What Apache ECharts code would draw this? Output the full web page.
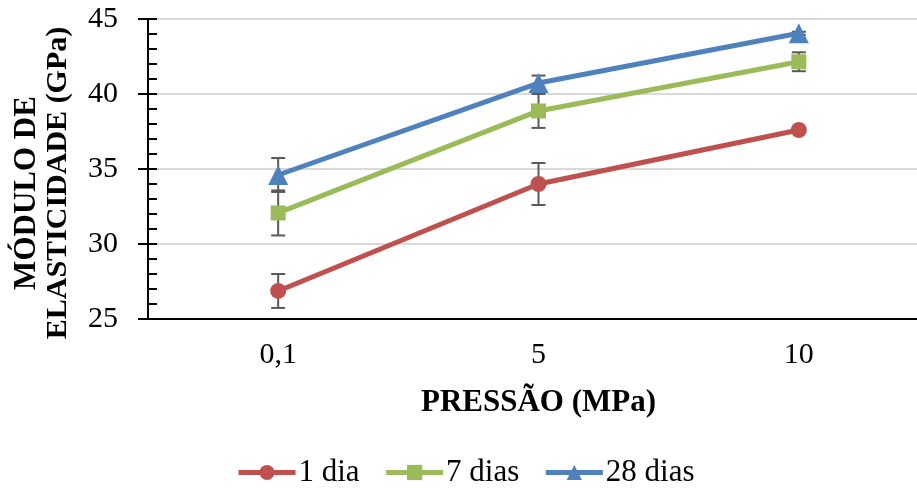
<!DOCTYPE html>
<html>
<head>
<meta charset="utf-8">
<script src="https://cdn.jsdelivr.net/npm/echarts@6/dist/echarts.min.js"></script>
<style>
html,body{margin:0;padding:0;background:#fff;}
#chart{width:917px;height:490px;}
</style>
</head>
<body>
<div id="chart"></div>
<script>
const categories = ['0,1', '5', '10'];
const seriesNames = ['1 dia', '7 dias', '28 dias'];
const dia1 = [26.87, 34.0, 37.6];
const dia7 = [32.07, 38.87, 42.15];
const dia28 = [34.6, 40.73, 44.05];
const err1 = [1.13, 1.4, 0.0];
const err7 = [1.5, 1.13, 0.63];
const err28 = [1.13, 0.5, 0.1];
const yTicks = [25, 30, 35, 40, 45];

const colors = ['#C0504D', '#9BBB59', '#4F81BD'];
const FONT = '"Liberation Serif", "Times New Roman", serif';

const chart = echarts.init(document.getElementById('chart'), null, {renderer: 'canvas'});

function errSeries(vals, errs, name) {
  return {
    type: 'custom',
    name: name + ' err',
    xAxisIndex: 0, yAxisIndex: 0,
    z: 1,
    silent: true,
    data: vals.map((v, i) => [i, v - errs[i], v + errs[i]]),
    renderItem: function (params, api) {
      const lo = api.coord([api.value(0), api.value(1)]);
      const hi = api.coord([api.value(0), api.value(2)]);
      const hw = 7;
      const st = {stroke: '#595959', lineWidth: 2};
      return {
        type: 'group',
        children: [
          {type: 'line', shape: {x1: lo[0], y1: lo[1], x2: hi[0], y2: hi[1]}, style: st},
          {type: 'line', shape: {x1: lo[0] - hw, y1: lo[1], x2: lo[0] + hw, y2: lo[1]}, style: st},
          {type: 'line', shape: {x1: hi[0] - hw, y1: hi[1], x2: hi[0] + hw, y2: hi[1]}, style: st}
        ]
      };
    }
  };
}

function lineSeries(name, vals, color, symbol, size) {
  return {
    type: 'line',
    name: name,
    data: vals,
    xAxisIndex: 0, yAxisIndex: 0,
    z: 3,
    symbol: symbol,
    symbolSize: size,
    lineStyle: {color: color, width: 5},
    itemStyle: {color: color},
    emphasis: {disabled: true}
  };
}

const option = {
  animation: false,
  color: colors,
  grid: {left: 148, top: 19, width: 781, height: 300, outerBoundsMode: 'none', containLabel: false,
    show: true, borderColor: '#000', borderWidth: 2, backgroundColor: 'transparent'},
  legend: {
    top: 452,
    left: 231,
    data: seriesNames,
    itemWidth: 57,
    itemHeight: 19,
    itemGap: 24,
    lineStyle: {width: 5},
    textStyle: {fontFamily: FONT, fontSize: 31, color: '#000', padding: [0, 0, 0, -2]}
  },
  xAxis: [
    {
      type: 'category', data: categories, position: 'bottom',
      boundaryGap: true,
      axisLine: {lineStyle: {color: '#000', width: 2}},
      axisTick: {alignWithLabel: true, inside: false, length: 6, lineStyle: {color: '#000', width: 2}},
      axisLabel: {fontFamily: FONT, fontSize: 30, color: '#000', margin: 21},
      splitLine: {show: false},
      name: 'PRESSÃO (MPa)', nameLocation: 'middle', nameGap: 68,
      nameTextStyle: {fontFamily: FONT, fontSize: 31, fontWeight: 'bold', color: '#000'}
    },
    {
      type: 'category', data: categories, position: 'bottom', gridIndex: 0,
      boundaryGap: true,
      axisLine: {show: false},
      axisTick: {alignWithLabel: true, inside: true, length: 6, lineStyle: {color: '#000', width: 2}},
      axisLabel: {show: false},
      splitLine: {show: false}
    }
  ],
  yAxis: [
    {
      type: 'value', min: 25, max: 45, interval: 5,
      axisLine: {show: true, lineStyle: {color: '#000', width: 2}},
      axisTick: {show: true, inside: false, length: 10, lineStyle: {color: '#000', width: 2}},
      axisLabel: {fontFamily: FONT, fontSize: 30, color: '#000', margin: 30,
        formatter: v => (yTicks.indexOf(v) >= 0 ? String(v) : '')},
      splitLine: {show: true, lineStyle: {color: '#d9d9d9', width: 2}}
    },
    {
      type: 'value', min: 25, max: 45, interval: 5, position: 'left',
      axisLine: {show: false},
      axisTick: {show: true, inside: true, length: 9, lineStyle: {color: '#000', width: 2}},
      minorTick: {show: true, splitNumber: 5, length: 9, lineStyle: {color: '#000', width: 2}},
      axisLabel: {show: false},
      splitLine: {show: false}
    }
  ],
  graphic: [
    {type: 'text', x: 27, y: 193, rotation: Math.PI / 2,
      style: {text: 'MÓDULO DE', font: 'bold 31px ' + FONT, fill: '#000', textAlign: 'center', textVerticalAlign: 'middle'}},
    {type: 'text', x: 58, y: 183, rotation: Math.PI / 2,
      style: {text: 'ELASTICIDADE (GPa)', font: 'bold 30px ' + FONT, fill: '#000', textAlign: 'center', textVerticalAlign: 'middle'}}
  ],
  series: [
    errSeries(dia1, err1, seriesNames[0]),
    errSeries(dia7, err7, seriesNames[1]),
    errSeries(dia28, err28, seriesNames[2]),
    lineSeries(seriesNames[0], dia1, colors[0], 'circle', 16),
    lineSeries(seriesNames[1], dia7, colors[1], 'rect', 15),
    lineSeries(seriesNames[2], dia28, colors[2], 'triangle', 20)
  ]
};
chart.setOption(option);
</script>
</body>
</html>
